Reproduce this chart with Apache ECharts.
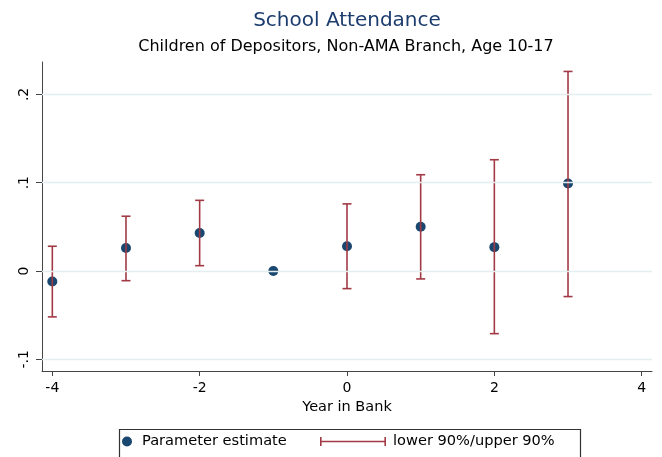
<!DOCTYPE html>
<html>
<head>
<meta charset="utf-8">
<script src="https://cdn.jsdelivr.net/npm/echarts@6/dist/echarts.min.js"></script>
<style>
html,body{margin:0;padding:0;background:#fff;}
#chart{width:662px;height:457px;}
</style>
</head>
<body>
<div id="chart"></div>
<script>
// Data
const years = [-4, -3, -2, -1, 0, 1, 2, 3];
const estimate = [-0.012, 0.026, 0.043, 0.000, 0.028, 0.050, 0.027, 0.099];
const lower90 = [-0.052, -0.011, 0.006, null, -0.020, -0.009, -0.071, -0.029];
const upper90 = [0.028, 0.062, 0.080, null, 0.076, 0.109, 0.126, 0.226];
const xTicks = [-4, -2, 0, 2, 4];
const yTicks = [-0.1, 0, 0.1, 0.2];

const FONT = 'DejaVu Sans';
const NAVY = '#1a476f';
const RED = '#a23a45';

const scatterData = years.map((x, i) => [x, estimate[i]]);
const ciData = [];
years.forEach((x, i) => {
  if (lower90[i] !== null && upper90[i] !== null) ciData.push([x, lower90[i], upper90[i]]);
});

function fmtY(v) {
  if (Math.abs(v) < 1e-9) return '0';
  return String(Math.round(v * 10) / 10).replace('0.', '.');
}

const chart = echarts.init(document.getElementById('chart'), null, {renderer: 'canvas'});
chart.setOption({
  backgroundColor: '#fff',
  animation: false,
  textStyle: {fontFamily: FONT},
  title: [
    {text: 'School Attendance', left: 347, textAlign: 'center', top: 11, padding: 0,
     textStyle: {fontFamily: FONT, fontSize: 20, fontWeight: 'normal', color: '#1c3c6e'}},
    {text: 'Children of Depositors, Non-AMA Branch, Age 10-17', left: 346, textAlign: 'center', top: 39, padding: 0,
     textStyle: {fontFamily: FONT, fontSize: 16, fontWeight: 'normal', color: '#000'}}
  ],
  grid: {left: 42, right: 10, top: 62, bottom: 86, containLabel: false},
  xAxis: {
    type: 'value', min: -4.14, max: 4.14,
    name: 'Year in Bank', nameLocation: 'middle', nameGap: 28,
    nameTextStyle: {fontFamily: FONT, fontSize: 14.5, color: '#000'},
    axisLine: {show: true, onZero: false, lineStyle: {color: '#444', width: 1}},
    axisTick: {show: true, length: 5, lineStyle: {color: '#444'}, customValues: xTicks},
    axisLabel: {fontFamily: FONT, fontSize: 14, color: '#000', margin: 10, customValues: xTicks,
                formatter: v => String(v)},
    splitLine: {show: false}
  },
  yAxis: {
    type: 'value', min: -0.1133, max: 0.2367,
    axisLine: {show: true, onZero: false, lineStyle: {color: '#444', width: 1}},
    axisTick: {show: true, length: 6, lineStyle: {color: '#444'}, customValues: yTicks},
    axisLabel: {fontFamily: FONT, fontSize: 14, color: '#000', margin: 11, rotate: 90,
                customValues: yTicks, formatter: fmtY},
    splitLine: {show: false}
  },
  legend: [
    {data: [{name: 'Parameter estimate', icon: 'circle'}], left: 122, top: 434, padding: 0,
     itemWidth: 10, itemHeight: 10, selectedMode: false,
     textStyle: {fontFamily: FONT, fontSize: 14.6, color: '#000', padding: [0, 0, 0, 5]}},
    {data: [{name: 'lower 90%/upper 90%', icon: 'path://M0,0h1.6v9h-1.6zM0,3.7h66v1.6h-66zM64.4,0h1.6v9h-1.6z'}],
     left: 320, top: 434, padding: 0,
     itemWidth: 66, itemHeight: 9, selectedMode: false,
     textStyle: {fontFamily: FONT, fontSize: 14.6, color: '#000', padding: [0, 0, 0, 2]}}
  ],
  graphic: [
    {type: 'rect', left: 117, top: 427, shape: {width: 461, height: 50},
     style: {fill: 'none', stroke: '#333', lineWidth: 1.2}, silent: true, z: 1}
  ],
  series: [
    {
      name: 'grid', type: 'line', data: [], z: 0, silent: true,
      markLine: {
        silent: true, symbol: 'none', label: {show: false},
        lineStyle: {color: '#e4eeee', width: 1.3, type: 'solid'},
        data: yTicks.map(v => ({yAxis: v}))
      }
    },
    {
      name: 'Parameter estimate', type: 'scatter', data: scatterData,
      symbol: 'circle', symbolSize: 10, z: 2,
      itemStyle: {color: NAVY, opacity: 1}
    },
    {
      name: 'lower 90%/upper 90%', type: 'custom', data: ciData, z: 3,
      itemStyle: {color: RED},
      encode: {x: 0, y: [1, 2]},
      renderItem: function (params, api) {
        const x = api.value(0);
        const lo = api.coord([x, api.value(1)]);
        const hi = api.coord([x, api.value(2)]);
        const hw = 4.5;
        const st = {stroke: RED, lineWidth: 1.6, fill: 'none'};
        return {
          type: 'group',
          children: [
            {type: 'line', shape: {x1: lo[0], y1: lo[1], x2: hi[0], y2: hi[1]}, style: st},
            {type: 'line', shape: {x1: lo[0] - hw, y1: lo[1], x2: lo[0] + hw, y2: lo[1]}, style: st},
            {type: 'line', shape: {x1: hi[0] - hw, y1: hi[1], x2: hi[0] + hw, y2: hi[1]}, style: st}
          ]
        };
      }
    }
  ]
});
</script>
</body>
</html>
